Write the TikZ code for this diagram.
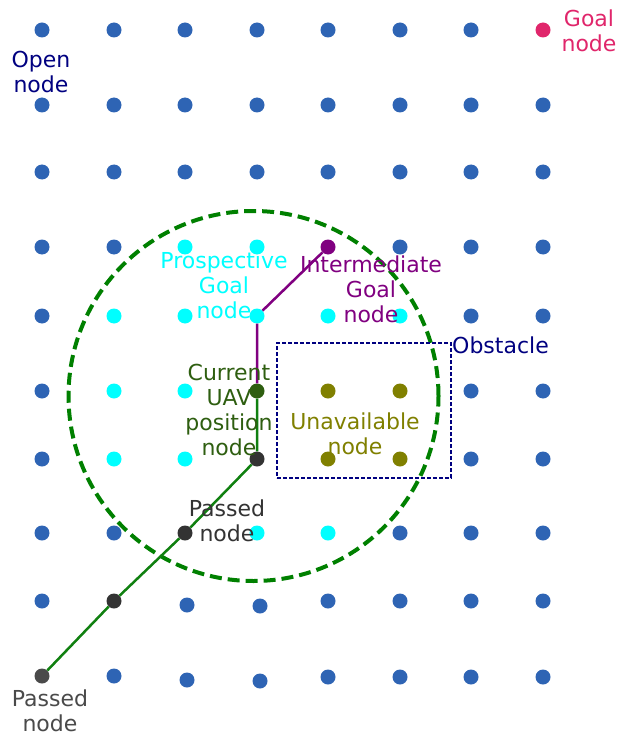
\documentclass[tikz,border=0pt]{standalone}
\usepackage{fontspec}
\setmainfont{DejaVu Sans}
\definecolor{openblue}{HTML}{2E64B4}
\definecolor{goalpink}{HTML}{E0266B}
\definecolor{pcyan}{HTML}{00FFFF}
\definecolor{ipurple}{HTML}{800080}
\definecolor{uolive}{HTML}{808000}
\definecolor{curgreen}{HTML}{2E5E10}
\definecolor{passdark}{HTML}{333333}
\definecolor{passgrey}{HTML}{4A4A4A}
\definecolor{navy}{HTML}{000080}
\definecolor{pathgreen}{HTML}{108010}
\begin{document}
\begin{tikzpicture}[x=1pt,y=-1pt,
  dot/.style={circle,inner sep=0pt,minimum size=15pt,fill=#1},
  lbl/.style={text=#1,align=center,font=\fontsize{22}{25}\selectfont,inner sep=0pt}]
\useasboundingbox (0,0) rectangle (619,738);
% circle and obstacle
\node[draw=green!50!black,line width=4pt,dash pattern=on 12pt off 6pt,circle,minimum size=370pt,inner sep=0pt] (range) at (253.5,396) {};
\node[draw=navy,line width=1.3pt,dash pattern=on 4pt off 2pt,minimum width=174pt,minimum height=135pt,inner sep=0pt] (obst) at (364,410.5) {};
% blue open nodes
\foreach \x [count=\c] in {42,114,185,257,328,400,471} \node[dot=openblue] (a\c) at (\x,30) {};
\foreach \x [count=\c] in {42,114,185,257,328,400,471,543} \node[dot=openblue] (b\c) at (\x,105) {};
\foreach \x [count=\c] in {42,114,185,257,328,400,471,543} \node[dot=openblue] (c\c) at (\x,172) {};
\node[dot=openblue] (d1) at (42,247) {};
\node[dot=openblue] (d2) at (114,247) {};
\node[dot=openblue] (d6) at (400,247) {};
\node[dot=openblue] (d7) at (471,247) {};
\node[dot=openblue] (d8) at (543,247) {};
\node[dot=openblue] (e1) at (42,316) {};
\node[dot=openblue] (e7) at (471,316) {};
\node[dot=openblue] (e8) at (543,316) {};
\node[dot=openblue] (f1) at (42,391) {};
\node[dot=openblue] (f7) at (471,391) {};
\node[dot=openblue] (f8) at (543,391) {};
\node[dot=openblue] (g1) at (42,459) {};
\node[dot=openblue] (g7) at (471,459) {};
\node[dot=openblue] (g8) at (543,459) {};
\node[dot=openblue] (h1) at (42,533) {};
\node[dot=openblue] (h2) at (114,533) {};
\node[dot=openblue] (h6) at (400,533) {};
\node[dot=openblue] (h7) at (471,533) {};
\node[dot=openblue] (h8) at (543,533) {};
\node[dot=openblue] (i1) at (42,601) {};
\node[dot=openblue] (i3) at (187,605) {};
\node[dot=openblue] (i4) at (260,606) {};
\node[dot=openblue] (i5) at (328,601) {};
\node[dot=openblue] (i6) at (400,601) {};
\node[dot=openblue] (i7) at (471,601) {};
\node[dot=openblue] (i8) at (543,601) {};
\node[dot=openblue] (j2) at (114,676) {};
\node[dot=openblue] (j3) at (187,680) {};
\node[dot=openblue] (j4) at (260,681) {};
\node[dot=openblue] (j5) at (328,677) {};
\node[dot=openblue] (j6) at (400,677) {};
\node[dot=openblue] (j7) at (471,677) {};
\node[dot=openblue] (j8) at (543,677) {};
% goal
\node[dot=goalpink] (goal) at (543,30) {};
% prospective
\node[dot=pcyan] (d3) at (185,247) {};
\node[dot=pcyan] (d4) at (257,247) {};
\node[dot=pcyan] (e2) at (114,316) {};
\node[dot=pcyan] (e3) at (185,316) {};
\node[dot=pcyan] (e4) at (257,316) {};
\node[dot=pcyan] (e5) at (328,316) {};
\node[dot=pcyan] (e6) at (400,316) {};
\node[dot=pcyan] (f2) at (114,391) {};
\node[dot=pcyan] (f3) at (185,391) {};
\node[dot=pcyan] (g2) at (114,459) {};
\node[dot=pcyan] (g3) at (185,459) {};
\node[dot=pcyan] (h4) at (257,533) {};
\node[dot=pcyan] (h5) at (328,533) {};
% intermediate
\node[dot=ipurple] (d5) at (328,247) {};
% unavailable
\node[dot=uolive] (f5) at (328,391) {};
\node[dot=uolive] (f6) at (400,391) {};
\node[dot=uolive] (g5) at (328,459) {};
\node[dot=uolive] (g6) at (400,459) {};
% passed and current
\node[dot=curgreen] (f4) at (257,391) {};
\node[dot=passdark] (g4) at (257,459) {};
\node[dot=passdark] (h3) at (185,533) {};
\node[dot=passdark] (i2) at (114,601) {};
\node[dot=passgrey] (j1) at (42,676) {};
% paths
\draw[pathgreen,line width=2.5pt] (j1) -- (i2) -- (h3) -- (g4) -- (f4);
\draw[ipurple,line width=2.5pt] (f4) -- (e4) -- (d5);
% labels
\node[lbl=navy] (lopen) at (41,72) {Open\\node};
\node[lbl=goalpink] (lgoal) at (589,31) {Goal\\node};
\node[lbl=pcyan] (lpros) at (224,285) {Prospective\\Goal\\node};
\node[lbl=ipurple] (linter) at (371,289) {Intermediate\\Goal\\node};
\node[lbl=curgreen] (lcur) at (229,410) {Current\\UAV\\position\\node};
\node[lbl=uolive] (lun) at (355,434) {Unavailable\\node};
\node[lbl=navy,anchor=west] (lobs) at (452,345) {Obstacle};
\node[lbl=passdark] (lpass) at (227,521) {Passed\\node};
\node[lbl=passgrey] (lpass2) at (50,711) {Passed\\node};
\end{tikzpicture}
\end{document}
